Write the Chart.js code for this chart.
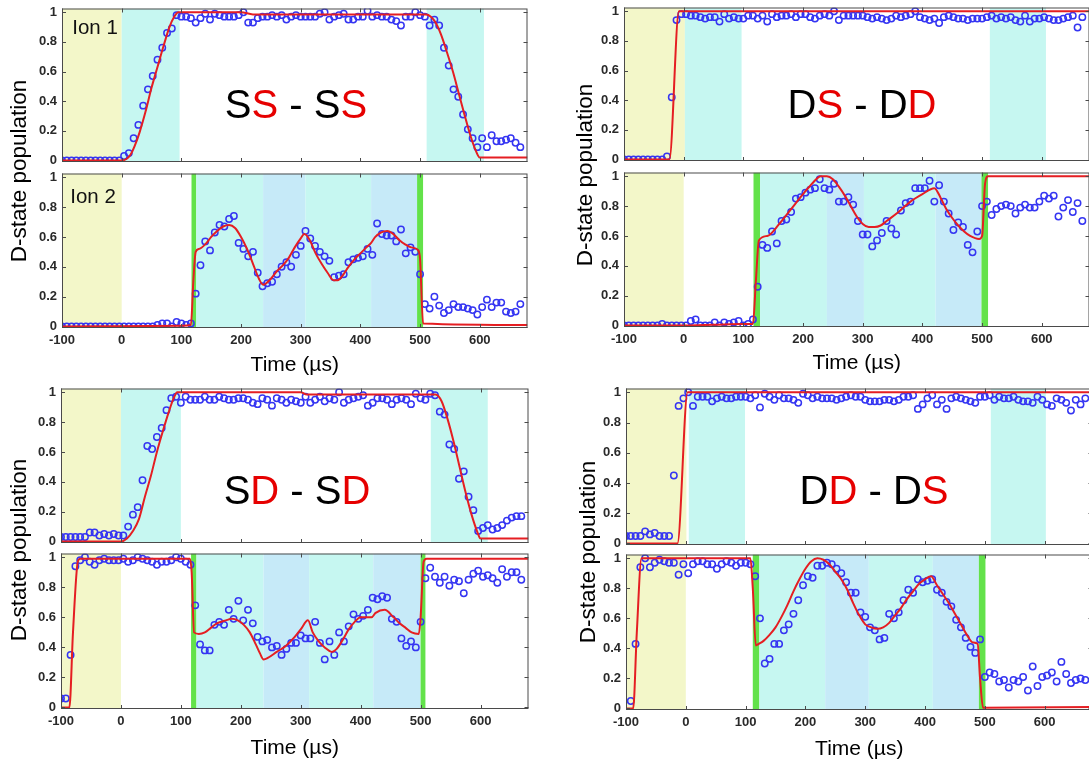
<!DOCTYPE html>
<html>
<head>
<meta charset="utf-8">
<script src="https://cdn.jsdelivr.net/npm/chart.js@4.4.1/dist/chart.umd.min.js"></script>
<style>
  html, body { margin: 0; padding: 0; background: #fff; overflow: hidden; }
  #fig { position: relative; width: 1089px; height: 765px; overflow: hidden; background: #fff;
         font-family: "Liberation Sans", Arial, Helvetica, sans-serif; }
  #fig canvas { position: absolute; }
  .lbl { position: absolute; transform: translate(-50%, -50%); white-space: nowrap; color: #000; line-height: 1; }
  .ylab { position: absolute; transform: translate(-50%, -50%) rotate(-90deg); white-space: nowrap;
          font-size: 22.5px; color: #000; line-height: 1; }
  .tag { font-size: 40px; }
  .tag .r { color: #e60000; }
  .ion { font-size: 20.5px; color: #111; }
</style>
</head>
<body>
<div id="fig"></div>
<script>
// Sample times (µs), shared by every trace
const time = [
  -100, -92, -84, -76, -68, -60, -52, -44, -36, -28,
  -20, -12, -4, 4, 12, 20, 28, 36, 44, 52,
  60, 68, 76, 84, 92, 100, 108, 116, 124, 132,
  140, 148, 156, 164, 172, 180, 188, 196, 204, 212,
  220, 228, 236, 244, 252, 260, 268, 276, 284, 292,
  300, 308, 316, 324, 332, 340, 348, 356, 364, 372,
  380, 388, 396, 404, 412, 420, 428, 436, 444, 452,
  460, 468, 476, 484, 492, 500, 508, 516, 524, 532,
  540, 548, 556, 564, 572, 580, 588, 596, 604, 612,
  620, 628, 636, 644, 652, 660, 668
];

const xTicks = [-100, 0, 100, 200, 300, 400, 500, 600];
const yTicks = [0, 0.2, 0.4, 0.6, 0.8, 1];

// Measured D-state population, SS - SS
const ssIon1 = [
  0, 0, 0, 0, 0, 0, 0, 0, 0, 0,
  0, 0, 0, 0.03, 0.05, 0.15, 0.24, 0.37, 0.48, 0.57,
  0.68, 0.76, 0.86, 0.89, 0.98, 0.97, 0.97, 0.96, 0.93, 0.96,
  0.99, 0.95, 0.99, 0.98, 0.97, 0.97, 0.97, 0.98, 1.0, 0.93,
  0.93, 0.96, 0.97, 0.97, 0.98, 0.97, 0.98, 0.95, 0.97, 0.98,
  0.97, 0.97, 0.97, 0.97, 0.99, 1.0, 0.95, 0.97, 0.98, 0.99,
  0.95, 0.95, 0.97, 0.97, 1.01, 0.97, 0.98, 0.97, 0.97, 0.95,
  0.94, 0.91, 0.97, 0.97, 1.0, 0.98, 0.97, 0.91, 0.95, 0.91,
  0.76, 0.64, 0.48, 0.43, 0.31, 0.21, 0.15, 0.09, 0.15, 0.09,
  0.17, 0.13, 0.13, 0.14, 0.15, 0.12, 0.09
];
const ssIon2 = [
  0, 0, 0, 0, 0, 0, 0, 0, 0, 0,
  0, 0, 0, 0, 0, 0, 0, 0, 0, 0,
  0.01, 0.02, 0.02, 0, 0.03, 0.02, 0.01, 0.02, 0.22, 0.41,
  0.57, 0.51, 0.63, 0.68, 0.67, 0.72, 0.74, 0.56, 0.52, 0.47,
  0.50, 0.36, 0.27, 0.29, 0.30, 0.35, 0.40, 0.43, 0.40, 0.48,
  0.54, 0.64, 0.59, 0.54, 0.50, 0.47, 0.44, 0.33, 0.34, 0.35,
  0.43, 0.45, 0.46, 0.47, 0.52, 0.48, 0.69, 0.62, 0.61, 0.61,
  0.57, 0.65, 0.49, 0.53, 0.50, 0.35, 0.15, 0.12, 0.20, 0.14,
  0.09, 0.11, 0.15, 0.13, 0.13, 0.12, 0.11, 0.08, 0.13, 0.18,
  0.13, 0.16, 0.16, 0.10, 0.09, 0.10, 0.15
];

// DS - DD
const dsIon1 = [
  0, 0, 0, 0, 0, 0, 0, 0, 0, 0.02,
  0.42, 0.94, 0.98, 0.98, 0.97, 0.97, 0.96, 0.95, 0.96, 0.96,
  0.93, 0.98, 0.95, 0.96, 0.95, 0.95, 0.97, 0.97, 0.95, 0.97,
  0.93, 0.98, 0.96, 0.97, 0.97, 0.98, 0.96, 0.98, 0.98, 0.96,
  0.95, 0.97, 0.98, 0.97, 1.0, 0.94, 0.97, 0.97, 0.97, 0.97,
  0.97, 0.96, 0.95, 0.96, 0.95, 0.94, 0.95, 0.97, 0.96, 0.97,
  0.98, 1.0, 0.96, 0.95, 0.94, 0.95, 0.92, 0.96, 0.97, 0.96,
  0.95, 0.95, 0.94, 0.95, 0.95, 0.95, 0.96, 0.97, 0.95, 0.96,
  0.95, 0.96, 0.94, 0.93, 0.97, 0.93, 0.95, 0.95, 0.96, 0.95,
  0.94, 0.94, 0.95, 0.96, 0.97, 0.89, 0.96
];
const dsIon2 = [
  0, 0, 0, 0, 0, 0, 0, 0, 0.01, 0,
  0, 0, 0, 0, 0.03, 0.04, 0, 0, 0, 0.02,
  0, 0.02, 0.01, 0.02, 0.03, 0, 0.01, 0.04, 0.26, 0.54,
  0.52, 0.63, 0.55, 0.70, 0.71, 0.76, 0.85, 0.86, 0.89, 0.91,
  0.92, 0.98, 0.92, 0.91, 0.95, 0.83, 0.83, 0.86, 0.81, 0.70,
  0.61, 0.61, 0.53, 0.57, 0.62, 0.70, 0.65, 0.61, 0.77, 0.82,
  0.83, 0.92, 0.92, 0.92, 0.97, 0.83, 0.94, 0.83, 0.75, 0.64,
  0.69, 0.66, 0.54, 0.49, 0.63, 0.80, 0.83, 0.74, 0.78, 0.80,
  0.81, 0.80, 0.75, 0.79, 0.81, 0.79, 0.79, 0.83, 0.87, 0.85,
  0.87, 0.73, 0.79, 0.84, 0.76, 0.82, 0.70
];

// SD - SD
const sdIon1 = [
  0.03, 0.03, 0.03, 0.03, 0.03, 0.03, 0.06, 0.06, 0.04, 0.05,
  0.04, 0.05, 0.04, 0.04, 0.10, 0.18, 0.23, 0.41, 0.64, 0.62,
  0.70, 0.76, 0.88, 0.96, 0.97, 0.93, 0.97, 0.95, 0.95, 0.95,
  0.97, 0.95, 0.95, 0.97, 0.96, 0.95, 0.95, 0.96, 0.96, 0.95,
  0.93, 0.92, 0.96, 0.95, 0.91, 0.96, 0.95, 0.93, 0.95, 0.94,
  0.93, 0.97, 0.93, 0.95, 0.97, 0.94, 0.96, 0.95, 1.0, 0.93,
  0.95, 0.96, 0.97, 0.98, 0.91, 0.93, 0.96, 0.96, 0.95, 0.92,
  0.95, 0.96, 0.95, 0.92, 0.99, 0.96, 0.95, 0.99, 0.98, 0.87,
  0.85, 0.65, 0.62, 0.42, 0.47, 0.30, 0.21, 0.07, 0.09, 0.11,
  0.08, 0.09, 0.11, 0.14, 0.16, 0.17, 0.17
];
const sdIon2 = [
  0.06, 0.06, 0.35, 0.94, 0.98, 1.0, 0.97, 0.95, 0.98, 0.99,
  0.98, 0.98, 0.98, 0.99, 0.97, 0.98, 1.0, 0.99, 0.98, 0.97,
  0.95, 0.97, 0.97, 0.98, 1.0, 0.99, 0.97, 0.95, 0.68, 0.42,
  0.38, 0.38, 0.55, 0.57, 0.55, 0.65, 0.59, 0.71, 0.58, 0.65,
  0.56, 0.47, 0.44, 0.45, 0.40, 0.41, 0.35, 0.39, 0.43, 0.43,
  0.48, 0.46, 0.46, 0.57, 0.43, 0.32, 0.44, 0.35, 0.50, 0.44,
  0.54, 0.62, 0.59, 0.61, 0.65, 0.73, 0.72, 0.74, 0.73, 0.59,
  0.57, 0.46, 0.41, 0.44, 0.40, 0.57, 0.86, 0.93, 0.87, 0.83,
  0.87, 0.81, 0.85, 0.84, 0.76, 0.85, 0.89, 0.91, 0.87, 0.88,
  0.86, 0.83, 0.92, 0.87, 0.90, 0.90, 0.85
];

// DD - DS
const ddIon1 = [
  0.05, 0.05, 0.05, 0.05, 0.08, 0.06, 0.07, 0.05, 0.05, 0.05,
  0.45, 0.91, 0.96, 1.0, 0.91, 0.97, 0.97, 0.97, 0.94, 0.96,
  0.97, 0.96, 0.96, 0.97, 0.97, 0.97, 0.96, 0.98, 0.90, 0.99,
  0.97, 0.95, 0.98, 0.96, 0.96, 0.95, 0.93, 0.99, 0.98, 0.96,
  0.97, 0.96, 0.96, 0.96, 0.95, 0.96, 0.97, 0.98, 0.97, 0.97,
  0.95, 0.94, 0.94, 0.94, 0.95, 0.95, 0.94, 0.95, 0.97, 0.97,
  0.98, 0.89, 0.92, 0.96, 0.98, 0.92, 0.95, 0.89, 0.96, 0.97,
  0.96, 0.95, 0.94, 0.93, 0.97, 0.97, 0.98, 0.95, 0.97, 0.96,
  0.96, 0.97, 0.95, 0.94, 0.94, 0.93, 0.97, 0.95, 0.92, 0.91,
  0.96, 0.95, 0.93, 0.88, 0.95, 0.92, 0.96
];
const ddIon2 = [
  null, 0.05, 0.43, 0.94, 1.0, 0.94, 0.97, 0.99, 0.98, 0.97,
  0.97, 0.89, 0.96, 0.90, 0.96, 0.98, 0.98, 0.96, 0.96, 0.93,
  0.96, 0.98, 0.97, 0.95, 0.97, 0.97, 0.96, 0.88, 0.60, 0.30,
  0.33, 0.43, 0.43, 0.52, 0.56, 0.63, 0.72, 0.82, 0.88, 0.87,
  0.95, 0.95, 0.97, 0.96, 0.93, 0.90, 0.84, 0.77, 0.77, 0.64,
  0.61, 0.54, 0.52, 0.46, 0.47, 0.63, 0.60, 0.64, 0.72, 0.79,
  0.77, 0.86, 0.84, 0.85, 0.86, 0.79, 0.77, 0.71, 0.68, 0.59,
  0.54, 0.47, 0.41, 0.37, 0.46, 0.21, 0.24, 0.23, 0.18, 0.19,
  0.14, 0.19, 0.18, 0.21, 0.12, 0.28, 0.15, 0.21, 0.22, 0.24,
  0.18, 0.31, 0.23, 0.17, 0.19, 0.20, 0.19
];

// Model curves (time, population)
const ssFit1T = [-100, 0, 8, 15, 22, 30, 40, 50, 60, 70, 80, 88, 95, 200, 220, 510, 518, 526, 535, 545, 555, 565, 575, 585, 593, 600, 680];
const ssFit1Y = [0, 0, 0.01, 0.04, 0.1, 0.19, 0.33, 0.49, 0.63, 0.77, 0.9, 0.97, 1.0, 1.0, 0.985, 0.985, 0.97, 0.93, 0.85, 0.73, 0.6, 0.45, 0.3, 0.16, 0.07, 0.02, 0.02];
const ssFit2T = [-100, 100, 116, 120, 124, 130, 140, 150, 160, 170, 180, 190, 200, 210, 220, 230, 237, 250, 260, 270, 280, 290, 300, 306, 315, 325, 335, 345, 355, 362, 370, 380, 390, 400, 410, 418, 425, 435, 445, 455, 465, 475, 485, 497, 500, 505, 680];
const ssFit2Y = [0, 0.005, 0.01, 0.3, 0.5, 0.52, 0.55, 0.6, 0.64, 0.67, 0.68, 0.66, 0.6, 0.52, 0.42, 0.32, 0.28, 0.32, 0.37, 0.41, 0.46, 0.53, 0.59, 0.62, 0.58, 0.49, 0.42, 0.36, 0.31, 0.31, 0.34, 0.40, 0.45, 0.49, 0.53, 0.56, 0.60, 0.63, 0.64, 0.62, 0.58, 0.55, 0.53, 0.51, 0.45, 0.02, 0.01];

const dsFit1T = [-100, -24, -8, 680];
const dsFit1Y = [0, 0, 1.0, 1.0];
const dsFit2T = [-100, 0, 50, 100, 116, 121, 126, 140, 160, 180, 200, 215, 230, 240, 250, 260, 270, 280, 290, 300, 310, 320, 330, 340, 360, 380, 400, 420, 430, 440, 450, 460, 470, 480, 495, 500, 505, 510, 680];
const dsFit2Y = [0, 0, 0.005, 0.01, 0.01, 0.3, 0.57, 0.6, 0.68, 0.78, 0.88, 0.95, 1.0, 1.0, 0.98, 0.93, 0.87, 0.8, 0.73, 0.68, 0.66, 0.66, 0.67, 0.7, 0.76, 0.83, 0.88, 0.92, 0.86, 0.78, 0.72, 0.67, 0.63, 0.6, 0.58, 0.6, 0.95, 1.0, 1.0];

const sdFit1T = [-100, 0, 10, 20, 30, 40, 50, 60, 70, 80, 88, 94, 300, 310, 525, 535, 545, 555, 565, 575, 585, 595, 600, 680];
const sdFit1Y = [0, 0, 0.02, 0.07, 0.15, 0.3, 0.44, 0.6, 0.74, 0.87, 0.96, 1.0, 1.0, 0.985, 0.985, 0.94, 0.82, 0.67, 0.5, 0.33, 0.18, 0.06, 0.02, 0.02];
const sdFit2T = [-100, -86, -80, -72, -68, 115, 118, 122, 130, 140, 150, 160, 175, 185, 195, 205, 215, 225, 232, 238, 245, 260, 275, 290, 300, 312, 320, 330, 340, 352, 360, 370, 380, 390, 400, 418, 425, 440, 455, 465, 475, 485, 497, 500, 505, 510, 680];
const sdFit2Y = [0, 0, 0.5, 0.97, 0.99, 0.99, 0.9, 0.5, 0.49, 0.5, 0.53, 0.56, 0.58, 0.59, 0.58, 0.55, 0.5, 0.42, 0.36, 0.32, 0.33, 0.37, 0.41, 0.47, 0.52, 0.58, 0.5, 0.44, 0.40, 0.37, 0.39, 0.45, 0.52, 0.57, 0.6, 0.6, 0.63, 0.65, 0.6, 0.56, 0.53, 0.5, 0.49, 0.6, 0.97, 0.99, 0.99];

const ddFit1T = [-100, -14, 3, 680];
const ddFit1Y = [0, 0, 1.0, 1.0];
const ddFit2T = [-100, -88, -82, -74, 108, 112, 117, 122, 130, 140, 150, 160, 170, 180, 190, 200, 210, 220, 230, 240, 250, 260, 270, 280, 290, 300, 310, 320, 330, 340, 350, 360, 370, 380, 390, 400, 410, 420, 430, 440, 450, 460, 470, 480, 488, 492, 497, 680];
const ddFit2Y = [0, 0, 0.5, 1.0, 1.0, 0.8, 0.42, 0.43, 0.45, 0.49, 0.54, 0.61, 0.69, 0.78, 0.86, 0.93, 0.98, 1.0, 0.99, 0.96, 0.91, 0.86, 0.79, 0.70, 0.62, 0.56, 0.54, 0.53, 0.54, 0.57, 0.62, 0.67, 0.73, 0.78, 0.83, 0.86, 0.88, 0.82, 0.76, 0.7, 0.63, 0.56, 0.49, 0.44, 0.43, 0.2, 0.005, 0.01];

// Pulse-sequence intervals (µs): [from, to, stage]
const ssSeq1 = [[-100, 0, 'prep'], [0, 97, 'gate'], [511, 607, 'gate']];
const ssSeq2 = [[-100, 0, 'prep'], [117, 125, 'flash'], [125, 237, 'gate'], [237, 308, 'gate2'], [308, 418, 'gate'], [418, 495, 'gate2'], [495, 505, 'flash']];
const dsSeq1 = [[-100, 2, 'prep'], [2, 97, 'gate'], [513, 607, 'gate']];
const dsSeq2 = [[-100, 0, 'prep'], [117, 128, 'flash'], [128, 240, 'gate'], [240, 302, 'gate2'], [302, 422, 'gate'], [422, 499, 'gate2'], [499, 510, 'flash']];
const sdSeq1 = [[-100, 0, 'prep'], [0, 100, 'gate'], [517, 612, 'gate']];
const sdSeq2 = [[-100, 0, 'prep'], [117, 126, 'flash'], [126, 238, 'gate'], [238, 314, 'gate2'], [314, 421, 'gate'], [421, 500, 'gate2'], [500, 508, 'flash']];
const ddSeq1 = [[-100, 1, 'prep'], [5, 99, 'gate'], [510, 602, 'gate']];
const ddSeq2 = [[-100, 0, 'prep'], [112, 123, 'flash'], [123, 233, 'gate'], [233, 306, 'gate2'], [306, 413, 'gate'], [413, 490, 'gate2'], [490, 501, 'flash']];

// ---- styling ----
const STAGE_FILL = { prep: '#f3f7c9', gate: '#c6f7f1', gate2: '#c6eaf8', flash: '#63e24a' };
const RED = '#e51e22';
const BLUE = '#3535f2';
const TICK_COLOR = '#2a2a2a';
const X_MIN = -100, X_MAX = 680, Y_MIN = -0.01, Y_MAX = 1.025;
const ML = 56, MR = 4, MT = 4;

Chart.defaults.font.family = '"Liberation Sans", Arial, Helvetica, sans-serif';

// Shaded intervals behind the data, and a box with inward ticks on top
const framePlugin = {
  id: 'frame',
  beforeDatasetsDraw(chart, args, opts) {
    const { ctx, chartArea: a, scales: { x } } = chart;
    ctx.save();
    ctx.beginPath();
    ctx.rect(a.left, a.top, a.right - a.left, a.bottom - a.top);
    ctx.clip();
    for (const [from, to, stage] of opts.seq) {
      const x0 = x.getPixelForValue(from);
      const x1 = x.getPixelForValue(to);
      ctx.fillStyle = STAGE_FILL[stage];
      ctx.fillRect(x0, a.top, x1 - x0, a.bottom - a.top);
    }
    ctx.restore();
  },
  afterDraw(chart) {
    const { ctx, chartArea: a, scales: { x, y } } = chart;
    const tl = 4;
    ctx.save();
    ctx.strokeStyle = '#4a4a4a';
    ctx.lineWidth = 1;
    ctx.strokeRect(a.left + 0.5, a.top + 0.5, a.right - a.left - 1, a.bottom - a.top - 1);
    ctx.beginPath();
    for (const t of x.ticks) {
      const px = Math.round(x.getPixelForValue(t.value)) + 0.5;
      ctx.moveTo(px, a.bottom); ctx.lineTo(px, a.bottom - tl);
      ctx.moveTo(px, a.top); ctx.lineTo(px, a.top + tl);
    }
    for (const t of y.ticks) {
      const py = Math.round(y.getPixelForValue(t.value)) + 0.5;
      ctx.moveTo(a.left, py); ctx.lineTo(a.left + tl, py);
      ctx.moveTo(a.right, py); ctx.lineTo(a.right - tl, py);
    }
    ctx.stroke();
    ctx.restore();
  }
};
Chart.register(framePlugin);

const fig = document.getElementById('fig');

function addPlot(rect, values, fitT, fitY, seq, titleY) {
  const [L, T, R, B] = rect;
  const mb = titleY ? Math.round(titleY - B + 12.6) : 8;
  const w = R - L + ML + MR;
  const h = B - T + MT + mb;
  const cv = document.createElement('canvas');
  cv.width = w; cv.height = h;
  cv.style.left = (L - ML) + 'px';
  cv.style.top = (T - MT) + 'px';
  cv.style.width = w + 'px';
  cv.style.height = h + 'px';
  fig.appendChild(cv);

  const circles = [];
  time.forEach((t, i) => { if (values[i] !== null) circles.push({ x: t, y: values[i] }); });
  const fit = fitT.map((t, i) => ({ x: t, y: fitY[i] }));
  const showX = !!titleY;
  const tickFont = { size: 13, weight: 'bold' };

  new Chart(cv, {
    type: 'scatter',
    data: {
      datasets: [
        { data: fit, showLine: true, borderColor: RED, borderWidth: 2, pointRadius: 0,
          cubicInterpolationMode: 'monotone', order: 0 },
        { data: circles, pointRadius: 3.2, pointBorderWidth: 1.5, pointBorderColor: BLUE,
          pointBackgroundColor: 'rgba(0,0,0,0)', order: 1 }
      ]
    },
    options: {
      responsive: false,
      animation: false,
      devicePixelRatio: 1,
      events: [],
      layout: { padding: { top: MT, right: MR, left: 0, bottom: 0 } },
      plugins: { legend: { display: false }, tooltip: { enabled: false }, frame: { seq } },
      scales: {
        x: {
          type: 'linear', min: X_MIN, max: X_MAX,
          grid: { display: false, drawTicks: false }, border: { display: false },
          afterBuildTicks: s => { s.ticks = xTicks.map(v => ({ value: v })); },
          afterFit: s => { s.height = mb; s.paddingLeft = 0; s.paddingRight = 0; },
          ticks: { display: showX, autoSkip: false, maxRotation: 0, padding: 5,
                   color: TICK_COLOR, font: tickFont, callback: v => String(v) },
          title: { display: showX, text: 'Time (µs)', color: '#000',
                   font: { size: 21 }, padding: { top: 0, bottom: 0 } }
        },
        y: {
          type: 'linear', min: Y_MIN, max: Y_MAX,
          grid: { display: false, drawTicks: false }, border: { display: false },
          afterBuildTicks: s => { s.ticks = yTicks.map(v => ({ value: v })); },
          afterFit: s => { s.width = ML; s.paddingTop = 0; s.paddingBottom = 0; },
          ticks: { padding: 5, color: TICK_COLOR, font: tickFont, callback: v => String(v) }
        }
      }
    }
  });
}

// SS - SS
addPlot([62, 7, 529, 162], ssIon1, ssFit1T, ssFit1Y, ssSeq1, null);
addPlot([62, 172, 529, 328], ssIon2, ssFit2T, ssFit2Y, ssSeq2, 365);
// DS - DD
addPlot([624, 6, 1091, 161], dsIon1, dsFit1T, dsFit1Y, dsSeq1, null);
addPlot([624, 171, 1091, 327], dsIon2, dsFit2T, dsFit2Y, dsSeq2, 363);
// SD - SD
addPlot([61, 387, 530, 543], sdIon1, sdFit1T, sdFit1Y, sdSeq1, null);
addPlot([61, 552, 530, 709], sdIon2, sdFit2T, sdFit2Y, sdSeq2, 748);
// DD - DS
addPlot([626, 387, 1094, 545], ddIon1, ddFit1T, ddFit1Y, ddSeq1, null);
addPlot([626, 553, 1094, 710], ddIon2, ddFit2T, ddFit2Y, ddSeq2, 749);

// Text annotations
function addText(html, cls, x, y) {
  const d = document.createElement('div');
  d.className = cls;
  d.innerHTML = html;
  d.style.left = x + 'px';
  d.style.top = y + 'px';
  fig.appendChild(d);
}
addText('D-state population', 'ylab', 19, 171);
addText('D-state population', 'ylab', 585, 175);
addText('D-state population', 'ylab', 19, 550);
addText('D-state population', 'ylab', 588, 552);

addText('S<span class="r">S</span> - S<span class="r">S</span>', 'lbl tag', 296, 104);
addText('D<span class="r">S</span> - D<span class="r">D</span>', 'lbl tag', 862, 104);
addText('S<span class="r">D</span> - S<span class="r">D</span>', 'lbl tag', 297, 490);
addText('D<span class="r">D</span> - D<span class="r">S</span>', 'lbl tag', 874, 490);

addText('Ion 1', 'lbl ion', 95, 27);
addText('Ion 2', 'lbl ion', 93, 196);
</script>
</body>
</html>
